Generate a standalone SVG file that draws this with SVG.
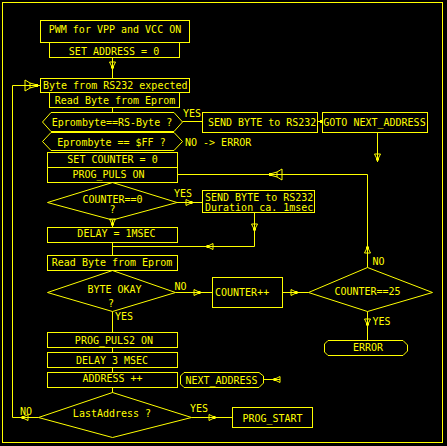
<svg xmlns="http://www.w3.org/2000/svg" width="447" height="446" viewBox="0 0 447 446">
<style>
.bg{fill:#000}
.s{fill:none;stroke:#ffff00;stroke-width:1}
.t{fill:#ffff00;font-family:"DejaVu Sans Mono","Liberation Mono",monospace;font-size:10px}
.m{text-anchor:middle}
.f{fill:#ffff00;stroke:none}
</style>
<defs>
<g id="ah"><path class="s" d="M-6,-3 L0,0 L-6,3 Z"/><rect class="f" x="-2" y="-1.5" width="2.5" height="3"/></g>
<g id="bah"><path class="s" d="M-12,-5.5 L-7,-2.5 L0,-0.5 L0,0.5 L-7,2.5 L-12,5.5 Z M-7,-2.5 L-7,2.5"/><rect class="f" x="-2" y="-1.5" width="3" height="3"/></g>
</defs>
<rect class="bg" x="0" y="0" width="447" height="446"/>
<rect class="s" x="2.5" y="2.5" width="440" height="440"/>

<g id="connectors">
<path class="s" d="M112.5,57.5 V78.5"/>
<use href="#ah" transform="translate(112.5,68) rotate(90)"/>
<path class="s" d="M112.5,107.5 V112.5"/>
<path class="s" d="M182.5,121.5 H202.5"/>
<path class="s" d="M317.5,121.5 H322.5"/>
<rect class="f" x="320" y="120" width="2.5" height="3"/>
<path class="s" d="M377.5,132.5 V162"/>
<use href="#ah" transform="translate(377.5,160) rotate(90)"/>
<path class="s" d="M177.5,174.5 H367.5 V267.5"/>
<use href="#bah" transform="translate(270,174.5) rotate(180)"/>
<use href="#ah" transform="translate(367.5,247) rotate(-90)"/>
<path class="s" d="M177,202.5 H202.5"/>
<use href="#ah" transform="translate(192,202.5)"/>
<path class="s" d="M254.5,212.5 V246.5 H112.5"/>
<use href="#ah" transform="translate(254.5,230) rotate(90)"/>
<use href="#ah" transform="translate(207,246.5) rotate(180)"/>
<path class="s" d="M112.5,220 V227.5"/>
<use href="#ah" transform="translate(112.5,225) rotate(90)"/>
<path class="s" d="M112.5,242.5 V255.5"/>
<path class="s" d="M175.5,292.5 H212.5"/>
<use href="#ah" transform="translate(200,292.5)"/>
<path class="s" d="M282.5,292.5 H308.5"/>
<use href="#ah" transform="translate(297,292.5)"/>
<path class="s" d="M367.5,311.5 V340.5"/>
<use href="#ah" transform="translate(367.5,325) rotate(90)"/>
<path class="s" d="M112.5,311.5 V332.5"/>
<path class="s" d="M112.5,347.5 V352.5"/>
<path class="s" d="M112.5,367.5 V372.5"/>
<path class="s" d="M112.5,387.5 V392.5"/>
<path class="s" d="M263.5,379.5 H280"/>
<use href="#ah" transform="translate(274,379.5) rotate(180)"/>
<path class="s" d="M38.5,417.5 H12.5 V85.5 H40.5"/>
<use href="#ah" transform="translate(22,417.5) rotate(180)"/>
<use href="#bah" transform="translate(37,85.5)"/>
<path class="s" d="M191.5,417.5 H232.5"/>
<use href="#ah" transform="translate(215,417.5)"/>
</g>

<g id="n-pwm"><rect class="s" x="40.5" y="20.5" width="149" height="22"/><text class="t m" x="115" y="32.5">PWM for VPP and VCC ON</text></g>
<g id="n-setaddr"><rect class="s" x="49.5" y="42.5" width="130" height="15"/><text class="t m" x="114" y="54.5">SET ADDRESS = 0</text></g>
<g id="n-expected"><rect class="s" x="40.5" y="78.5" width="149" height="14"/><text class="t" x="43" y="88.5">Byte from RS232 expected</text></g>
<g id="n-read1"><rect class="s" x="49.5" y="92.5" width="130" height="15"/><text class="t m" x="115" y="103.5">Read Byte from Eprom</text></g>
<g id="n-cmp1"><path class="s" d="M42.5,122 L51,112.5 H174 L182.5,122 L174,131.5 H51 Z"/><text class="t m" x="112" y="125.5">Eprombyte==RS-Byte ?</text></g>
<g id="n-cmp2"><path class="s" d="M42.5,141.5 L51,132.5 H174 L182.5,141.5 L174,150.5 H51 Z"/><text class="t m" x="111.5" y="145.5">Eprombyte == $FF ?</text></g>
<text class="t" x="183" y="116.5">YES</text>
<text class="t" x="185" y="145.5">NO -&gt; ERROR</text>
<g id="n-send1"><rect class="s" x="202.5" y="112.5" width="115" height="20"/><text class="t" x="208" y="125.5">SEND BYTE to RS232</text></g>
<g id="n-goto"><rect class="s" x="322.5" y="112.5" width="105" height="20"/><text class="t m" x="374.5" y="125.5">GOTO NEXT_ADDRESS</text></g>
<g id="n-setcnt"><rect class="s" x="47.5" y="152.5" width="130" height="15"/><text class="t m" x="112.5" y="162.5">SET COUNTER = 0</text></g>
<g id="n-puls"><rect class="s" x="47.5" y="167.5" width="130" height="15"/><text class="t m" x="108.5" y="177.5">PROG_PULS ON</text></g>
<g id="n-cnt0"><path class="s" d="M112.5,182.5 L177,202.5 L112.5,220 L47.5,202.5 Z"/><text class="t m" x="112.5" y="202.5">COUNTER==0</text><text class="t m" x="112.5" y="212.5">?</text></g>
<text class="t" x="174" y="196.5">YES</text>
<g id="n-send2"><rect class="s" x="202.5" y="190.5" width="112" height="22"/><text class="t" x="205" y="200.5">SEND BYTE to RS232</text><text class="t" x="205" y="210.5">Duration ca. 1msec</text></g>
<g id="n-delay1"><rect class="s" x="47.5" y="227.5" width="130" height="15"/><text class="t m" x="116.5" y="237">DELAY = 1MSEC</text></g>
<g id="n-read2"><rect class="s" x="47.5" y="255.5" width="130" height="15"/><text class="t m" x="112" y="266">Read Byte from Eprom</text></g>
<g id="n-ok"><path class="s" d="M112.5,270.5 L175.5,292.5 L112.5,311.5 L47.5,292.5 Z"/><text class="t m" x="114.5" y="292.5">BYTE OKAY</text><text class="t m" x="111" y="306.5">?</text></g>
<text class="t" x="174.5" y="290">NO</text>
<text class="t" x="115" y="319.5">YES</text>
<g id="n-cntinc"><rect class="s" x="212.5" y="277.5" width="70" height="30"/><text class="t" x="215" y="296">COUNTER++</text></g>
<g id="n-cnt25"><path class="s" d="M367.5,267.5 L432.5,292.5 L367.5,311.5 L308.5,292.5 Z"/><text class="t m" x="367.5" y="294.5">COUNTER==25</text></g>
<text class="t" x="372.5" y="265">NO</text>
<text class="t" x="372.5" y="325">YES</text>
<g id="n-error"><path class="s" d="M328,340.5 L324.5,344 V352 L328,355.5 H403 L407.5,351 V345 L403,340.5 Z"/><text class="t m" x="368" y="350.5">ERROR</text></g>
<g id="n-puls2"><rect class="s" x="47.5" y="332.5" width="130" height="15"/><text class="t m" x="114" y="343.5">PROG_PULS2 ON</text></g>
<g id="n-delay3"><rect class="s" x="47.5" y="352.5" width="130" height="15"/><text class="t m" x="112" y="363.5">DELAY 3 MSEC</text></g>
<g id="n-addr"><rect class="s" x="47.5" y="372.5" width="130" height="15"/><text class="t m" x="112.5" y="381.5">ADDRESS ++</text></g>
<g id="n-next"><path class="s" d="M184,372.5 L180.5,376 V384 L184,387.5 H259 L263.5,383 V376 L259,372.5 Z"/><text class="t m" x="221.5" y="383.5">NEXT_ADDRESS</text></g>
<g id="n-last"><path class="s" d="M112.5,392.5 L191.5,417.5 L112.5,437.5 L38.5,417.5 Z"/><text class="t m" x="112" y="416.5">LastAddress ?</text></g>
<text class="t" x="20" y="414.5">NO</text>
<text class="t" x="190" y="411.5">YES</text>
<g id="n-start"><rect class="s" x="232.5" y="407.5" width="80" height="20"/><text class="t m" x="272.5" y="421.5">PROG_START</text></g>
</svg>
